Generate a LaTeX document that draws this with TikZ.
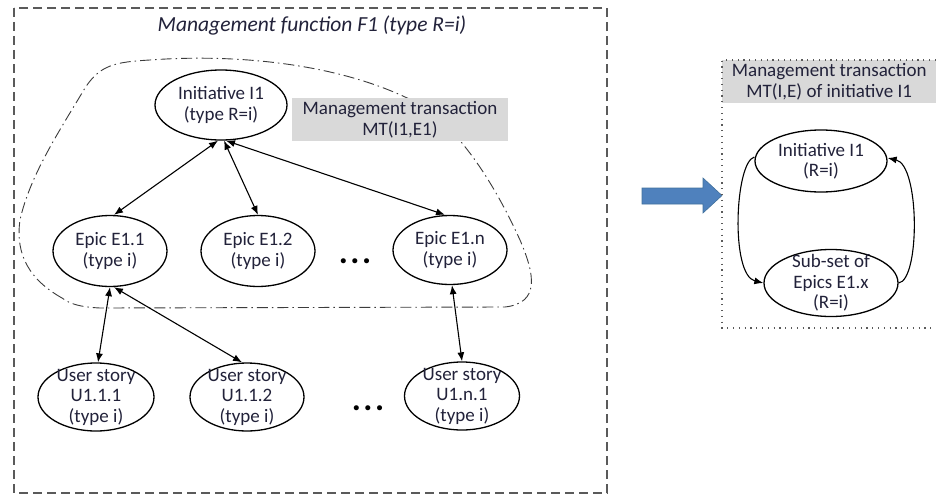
\documentclass[tikz,border=0pt]{standalone}
\usepackage{fontspec}
\setmainfont{Carlito}
\usetikzlibrary{shapes.geometric,arrows.meta}
\definecolor{txtc}{HTML}{22223A}
\definecolor{boxgray}{HTML}{D9D9D9}
\definecolor{arrowblue}{HTML}{4F81BD}
\definecolor{arrowedge}{HTML}{41719C}
\definecolor{framegray}{HTML}{5A5A5A}
\definecolor{blobgray}{HTML}{3C3C3C}
\begin{document}
\begin{tikzpicture}[x=1pt,y=-1pt,
  ell/.style={ellipse,draw=black,line width=1.3pt,inner sep=0pt,fill=white},
  txt/.style={text=txtc,align=center,font=\fontsize{19}{20.5}\selectfont,inner sep=0pt},
  graybox/.style={txt,fill=boxgray,font=\fontsize{19}{21.5}\selectfont},
  link/.style={line width=1.1pt,{Latex[length=9pt,width=7pt]}-{Latex[length=9pt,width=7pt]}},
  oneway/.style={line width=1.1pt,-{Latex[length=9pt,width=7pt]}},
  dotsnode/.style={text=black,inner sep=0pt,anchor=base,font=\fontsize{34}{34}\selectfont\bfseries},
  outerframe/.style={draw=framegray,line width=1.5pt,dash pattern=on 9pt off 5pt},
  blob/.style={draw=blobgray,line width=0.9pt,dash pattern=on 11pt off 4pt on 1.5pt off 4pt},
  rightframe/.style={draw=framegray,line width=1.2pt,dash pattern=on 1.2pt off 4.6pt}
]
\useasboundingbox (0,0) rectangle (936,495);

% ---- management function frame ----
\draw[outerframe] (14,8) rectangle (607,493);
\node[text=txtc,anchor=base,inner sep=0pt,font=\fontsize{21.5}{24}\selectfont\itshape] (title) at (312,32) {Management function F1 (type R=i)};

% ---- management transaction outline ----
\draw[blob] (62,298) .. controls (30,280) and (15,255) .. (20,220)
  .. controls (30,175) and (60,130) .. (85,88)
  .. controls (100,65) and (115,62) .. (150,60)
  .. controls (230,54) and (330,62) .. (405,97)
  .. controls (455,118) and (495,185) .. (520,240)
  .. controls (535,275) and (540,303) .. (505,307)
  -- (100,308)
  .. controls (80,307) and (70,304) .. (62,298) -- cycle;

\node[graybox,minimum width=216pt,minimum height=43pt] (MT) at (400,119.5) {Management transaction\\MT(I1,E1)};

% ---- initiative, epics, user stories ----
\node[ell,minimum width=132pt,minimum height=70pt,label={[txt]center:{Initiative I1\\(type R=i)}}] (I1) at (221,105) {};

\node[ell,minimum width=114pt,minimum height=71pt,label={[txt]center:{Epic E1.1\\(type i)}}] (E11) at (110,251) {};
\node[ell,minimum width=114pt,minimum height=71pt,label={[txt]center:{Epic E1.2\\(type i)}}] (E12) at (258,251) {};
\node[ell,minimum width=114pt,minimum height=69pt,label={[txt]center:{Epic E1.n\\(type i)}}] (E1n) at (450,250) {};
\node[dotsnode] (dotsA) at (355,263) {.\hspace{2.5pt}.\hspace{2.5pt}.};

\node[ell,minimum width=116pt,minimum height=68pt,label={[txt]center:{User story\\U1.1.1\\(type i)}}] (U111) at (96,397) {};
\node[ell,minimum width=114pt,minimum height=68pt,label={[txt]center:{User story\\U1.1.2\\(type i)}}] (U112) at (247,397) {};
\node[ell,minimum width=115pt,minimum height=68pt,label={[txt]center:{User story\\U1.n.1\\(type i)}}] (U1n1) at (462,396) {};
\node[dotsnode] (dotsB) at (368,410) {.\hspace{2.5pt}.\hspace{2.5pt}.};

% ---- links ----
\draw[link] ([xshift=-3pt]I1.south) -- ([xshift=4pt]E11.north);
\draw[link] ([xshift=3pt]I1.south) -- (E12.north);
\draw[link] ([xshift=5pt]I1.south) -- ([xshift=-5pt]E1n.north);
\draw[link] (E11.south) -- ([xshift=2pt]U111.north);
\draw[link] ([xshift=4pt]E11.south) -- ([xshift=-5pt]U112.north);
\draw[link] ([xshift=2pt]E1n.south) -- (U1n1.north);

% ---- transition arrow ----
\filldraw[fill=arrowblue,draw=arrowedge,line width=0.6pt]
  (642,188) -- (703,188) -- (703,178) -- (722,195.5) -- (703,213) -- (703,204) -- (642,204) -- cycle;

% ---- management transaction of initiative I1 ----
\node[graybox,minimum width=214pt,minimum height=43pt,anchor=north west] (hdr) at (722,60) {Management transaction\\MT(I,E) of initiative I1};
\draw[rightframe] (936,60) -- (722,60) -- (722,328) -- (936,328);

\node[ell,minimum width=132pt,minimum height=62pt,label={[txt]center:{Initiative I1\\(R=i)}}] (I1b) at (821,161) {};
\node[ell,minimum width=134pt,minimum height=67pt,label={[txt]center:{Sub-set of\\Epics E1.x\\(R=i)}}] (Sub) at (831,283) {};

\draw[oneway] ([yshift=4pt]I1b.west) .. controls (735,162) and (730,275) .. (Sub.west);
\draw[oneway] (Sub.east) .. controls (920,280) and (920,165) .. ([yshift=3pt]I1b.east);
\end{tikzpicture}
\end{document}
